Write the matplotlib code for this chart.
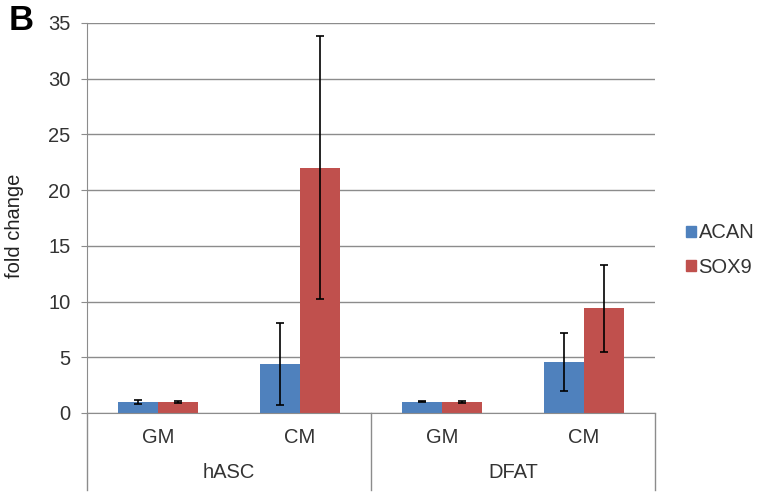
import matplotlib.pyplot as plt
import matplotlib.transforms as mtransforms
from matplotlib.patches import Patch
import numpy as np

plt.rcParams['font.family'] = ['Liberation Sans', 'DejaVu Sans']

conditions = ["GM", "CM", "GM", "CM"]
cell_types = ["hASC", "DFAT"]
acan = [1.0, 4.4, 1.0, 4.55]
acan_err = [0.15, 3.65, 0.05, 2.6]
sox9 = [1.0, 22.0, 1.0, 9.4]
sox9_err = [0.08, 11.8, 0.07, 3.9]

blue = "#4F81BD"
red = "#C0504D"
grey = "#8C8C8C"
txt = "#333333"

fig = plt.figure(figsize=(7.62, 4.97), dpi=100)
ax = fig.add_axes([87 / 762, 84 / 497, 568 / 762, 390 / 497])

x = np.arange(len(conditions))
w = 0.285
ekw = dict(ecolor="black", elinewidth=1.2, capsize=3, capthick=1.2)
ax.bar(x - w / 2, acan, w, color=blue, yerr=acan_err, error_kw=ekw, zorder=2)
ax.bar(x + w / 2, sox9, w, color=red, yerr=sox9_err, error_kw=ekw, zorder=2)

ax.set_xlim(-0.5, 3.5)
ax.set_ylim(0, 35)
ax.set_yticks(range(0, 36, 5))
ax.yaxis.grid(True, color=grey, linewidth=1)
ax.set_axisbelow(True)
ax.tick_params(axis="y", length=4, color=grey, labelsize=14.5, labelcolor=txt, pad=8)
ax.set_xticks([])
for s in ["top", "right"]:
    ax.spines[s].set_visible(False)
ax.spines["left"].set_color(grey)
ax.spines["bottom"].set_color(grey)

# two-level category axis
trans = mtransforms.blended_transform_factory(ax.transData, ax.transAxes)
for xi, c in zip(x, conditions):
    ax.text(xi, -0.064, c, transform=trans, ha="center", va="center", fontsize=14.5, color=txt)
for i, ct in enumerate(cell_types):
    ax.text(2 * i + 0.5, -0.153, ct, transform=trans, ha="center", va="center", fontsize=14.5, color=txt)
for xs in [-0.5, 1.5, 3.5]:
    ax.plot([xs, xs], [0, -0.197], transform=trans, color=grey, linewidth=1, clip_on=False)

fig.text(15 / 762, 1 - 226 / 497, "fold change", rotation=90, fontsize=14.5, color="#222222",
         ha="center", va="center")

handles = [Patch(color=blue, label="ACAN"), Patch(color=red, label="SOX9")]
fig.legend(handles=handles, loc="center left", bbox_to_anchor=(668 / 762, 1 - 250 / 497),
           frameon=False, fontsize=14.5, handlelength=0.47, handleheight=0.47,
           handletextpad=0.15, labelspacing=0.75, labelcolor=txt)

fig.text(9 / 762, 1 - 21 / 497, "B", fontsize=25, fontweight="bold", va="center", ha="left")

fig.savefig("out.png", dpi=100)
